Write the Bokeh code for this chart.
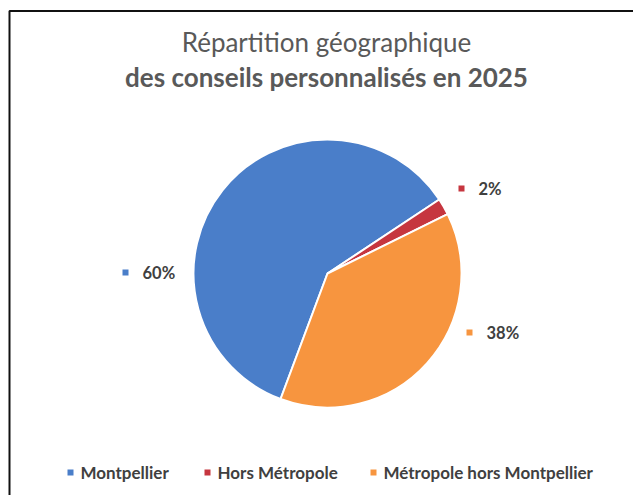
import numpy as np
from bokeh.plotting import figure
from bokeh.models import Range1d, ColumnDataSource
from bokeh.core.properties import value
from bokeh.embed import file_html
from bokeh.resources import INLINE

# ---- data ----
categories = ["Montpellier", "Hors Métropole", "Métropole hors Montpellier"]
values = [60, 2, 38]
colors = ["#4A7EC9", "#C6363F", "#F7953F"]
title_line1 = "Répartition géographique"
title_line2 = "des conseils personnalisés en 2025"

# ---- layout (screen pixels, converted to figure coords) ----
W, H = 633, 495
def fx(x):
    return x
def fy(y):
    return H - y

FONT = "Lato"
TEXT_COLOR = "#404040"
TITLE_COLOR = "#595959"

p = figure(width=W, height=H, output_backend="svg", toolbar_location=None,
           x_range=Range1d(0, W), y_range=Range1d(0, H), min_border=0)
p.axis.visible = False
p.grid.visible = False
p.outline_line_color = None
p.background_fill_color = "white"
p.border_fill_color = "white"

# frame border (left and top, as in the reference crop)
p.line([fx(9), fx(9), W], [0, fy(10.5), fy(10.5)], line_color="#111111", line_width=2)

# ---- pie ----
cx, cy, radius = fx(327), fy(273), 134
start0 = np.deg2rad(249.5)  # first-slice rotation, drawn clockwise
vals = np.array(values, dtype=float)
spans = vals / vals.sum() * 2 * np.pi
starts = start0 - np.concatenate([[0], np.cumsum(spans)[:-1]])
ends = starts - spans
pct = [f"{v / vals.sum() * 100:.0f}%" for v in vals]

src = ColumnDataSource(dict(cat=categories, color=colors, start=ends, end=starts, pct=pct))
p.wedge(x=cx, y=cy, radius=radius, radius_units="screen",
        start_angle="start", end_angle="end", fill_color="color",
        line_color="white", line_width=2, source=src)

# ---- data labels ("best fit" positions: marker then text) ----
label_mx = [fx(125), fx(461), fx(469)]
label_my = [fy(272), fy(188), fy(332)]
label_gap = 17
lsrc = ColumnDataSource(dict(x=label_mx, y=label_my, tx=[x + label_gap for x in label_mx],
                             color=colors, pct=pct))
p.scatter(x="x", y="y", marker="square", size=6, fill_color="color", line_color=None, source=lsrc)
p.text(x="tx", y="y", text="pct", text_font=value(FONT), text_font_style="bold",
       text_font_size="16.5px", text_color=TEXT_COLOR, text_baseline="middle",
       text_align="left", source=lsrc)

# ---- title ----
p.text(x=[fx(326)], y=[fy(41)], text=[title_line1], text_font=value(FONT),
       text_font_size="26px", text_color=TITLE_COLOR, text_align="center",
       text_baseline="middle")
p.text(x=[fx(326)], y=[fy(76)], text=[title_line2], text_font=value(FONT),
       text_font_style="bold", text_font_size="26px", text_color=TITLE_COLOR,
       text_align="center", text_baseline="middle")

# ---- legend (bottom, horizontal) ----
leg_mx = [fx(70), fx(207), fx(373)]
leg_y = [fy(472)] * 3
gsrc = ColumnDataSource(dict(x=leg_mx, y=leg_y, tx=[x + 10 for x in leg_mx],
                             color=colors, cat=categories))
p.scatter(x="x", y="y", marker="square", size=6, fill_color="color", line_color=None, source=gsrc)
p.text(x="tx", y="y", text="cat", text_font=value(FONT), text_font_style="bold",
       text_font_size="17px", text_color=TEXT_COLOR, text_baseline="middle",
       text_align="left", source=gsrc)

open("out.html", "w").write(file_html(p, INLINE))
